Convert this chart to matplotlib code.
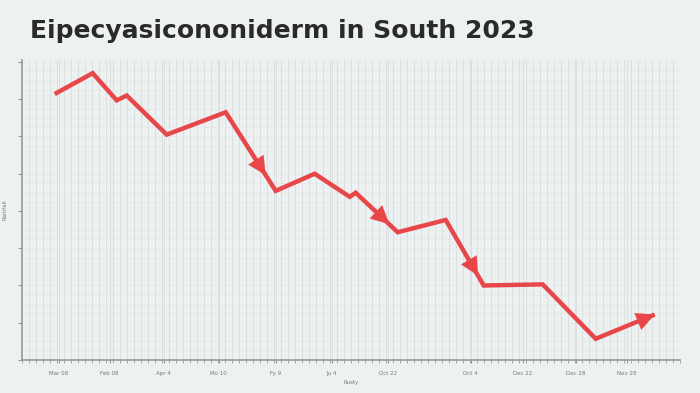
import numpy as np
import matplotlib
matplotlib.use("Agg")
import matplotlib.pyplot as plt
from matplotlib.ticker import MultipleLocator

title = "Eipecyasicononiderm in South 2023"

# line vertices (x in weeks-ish units, y in axis units)
xs = [3.3, 7.1, 9.5, 10.5, 14.5, 20.4, 25.4, 29.3, 32.8, 33.4, 37.6, 42.4, 46.2, 52.1, 57.4, 63.3]
ys = [71.4, 77.0, 69.7, 71.0, 60.5, 66.5, 45.4, 50.0, 43.8, 44.9, 34.3, 37.6, 20.0, 20.3, 5.7, 12.2]

# segments carrying an arrowhead (start index) and where along it the tip sits
arrow_segs = [5, 9, 11, 14]
arrow_frac = [0.8, 0.8, 0.85, 1.0]

tick_pos = [3.7, 8.8, 14.2, 19.7, 25.4, 31.0, 36.6, 44.9, 50.1, 55.4, 60.5]
tick_labels = ["Mar 08", "Feb 08", "Apr 4", "Mo 10", "Fy 9", "Ju 4",
               "Oct 22", "Oct 4", "Dec 22", "Dec 28", "Nov 28"]
ytick_vals = [0, 10, 20, 30, 40, 50, 60, 70, 80]

red = "#e8474a"
bg = "#eef1f2"

fig = plt.figure(figsize=(7, 3.93), dpi=100, facecolor=bg)
ax = fig.add_axes([0.031, 0.084, 0.94, 0.763])
ax.set_facecolor(bg)

ax.plot(xs, ys, color=red, lw=3.2, solid_joinstyle="miter", solid_capstyle="butt", zorder=3)

for seg, f in zip(arrow_segs, arrow_frac):
    x0, y0 = xs[seg], ys[seg]
    x1, y1 = xs[seg + 1], ys[seg + 1]
    tx, ty = x0 + f * (x1 - x0), y0 + f * (y1 - y0)
    sx, sy = x0 + (f - 0.4) * (x1 - x0), y0 + (f - 0.4) * (y1 - y0)
    ax.annotate("", xy=(tx, ty), xytext=(sx, sy),
                arrowprops=dict(arrowstyle="-|>,head_length=1.3,head_width=0.65",
                                color=red, lw=0.1, shrinkA=0, shrinkB=0), zorder=4)

ax.set_xlim(0, 65.8)
ax.set_ylim(0, 80.5)

ax.set_xticks(tick_pos)
ax.set_xticklabels(tick_labels, fontsize=4, color="#777777")
ax.set_yticks(ytick_vals)
ax.set_yticklabels(["" for v in ytick_vals])
ax.xaxis.set_minor_locator(MultipleLocator(0.7))
ax.yaxis.set_minor_locator(MultipleLocator(2.5))
ax.tick_params(axis="x", which="both", length=2, color="#999999", pad=6)
ax.tick_params(axis="y", which="major", length=3, color="#999999")
ax.tick_params(axis="y", which="minor", length=0)

ax.grid(which="minor", axis="x", color="#d9dcdd", lw=0.6)
ax.grid(which="major", axis="x", color="#d9dcdd", lw=0.6)
ax.grid(which="both", axis="y", color="#e4e7e8", lw=0.5)

for s in ["top", "right"]:
    ax.spines[s].set_visible(False)
for s in ["left", "bottom"]:
    ax.spines[s].set_color("#999999")
    ax.spines[s].set_linewidth(1.2)

ax.set_xlabel("Rusty", fontsize=4, color="#777777", labelpad=3)
ax.set_ylabel("Rainfall", fontsize=4, color="#777777", labelpad=4)

fig.text(0.043, 0.92, title, fontsize=18, fontweight="bold", color="#2a2a2a",
         va="center", ha="left")

fig.savefig("out.png", dpi=100, facecolor=bg)
